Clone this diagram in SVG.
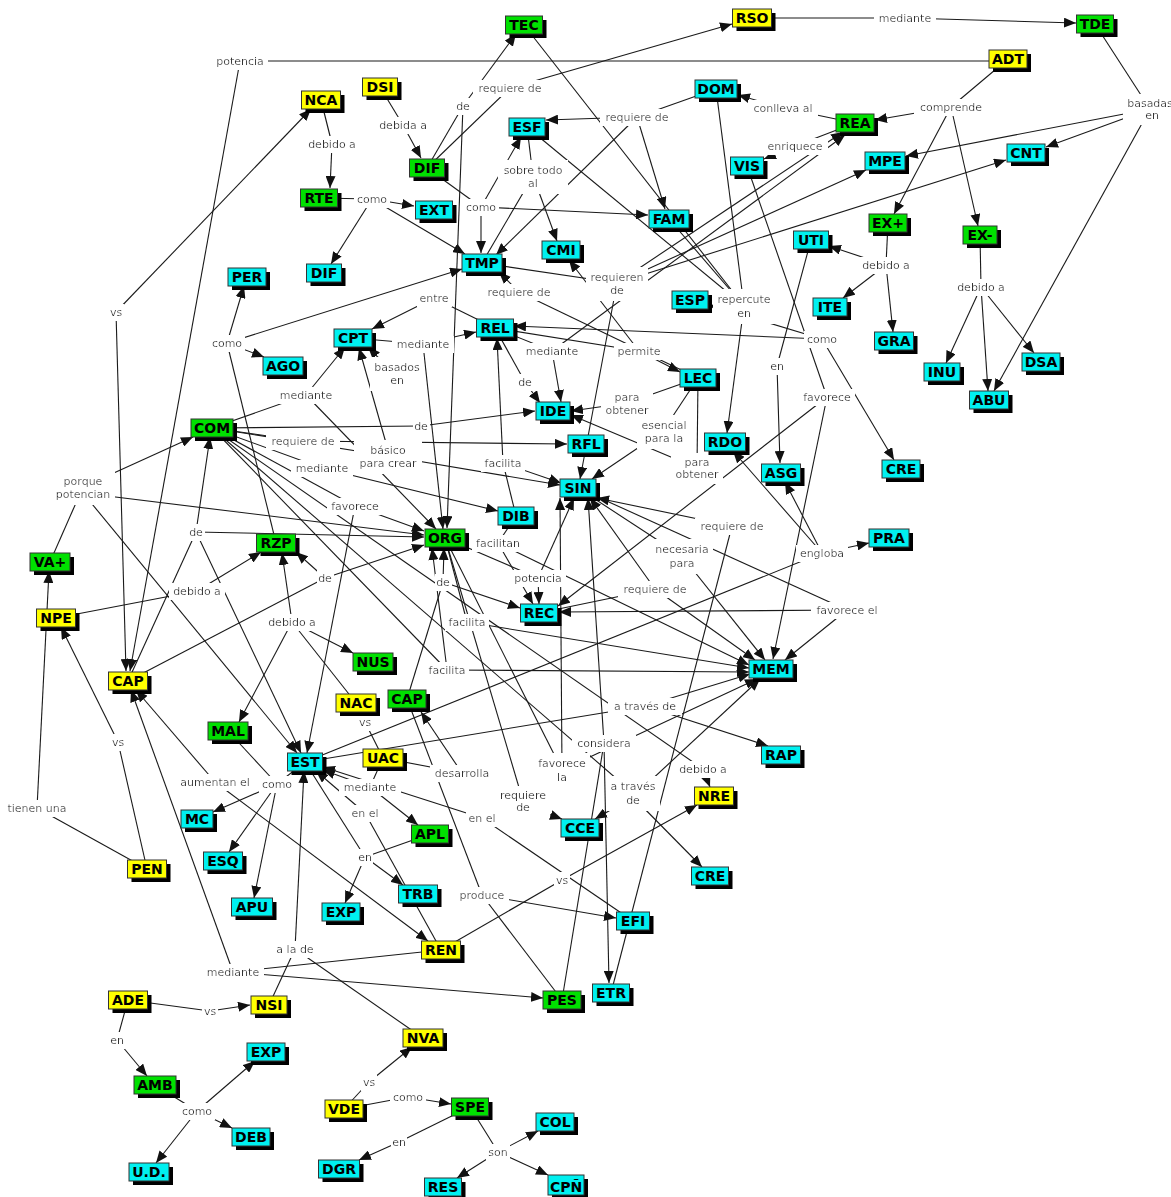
<svg xmlns="http://www.w3.org/2000/svg" width="1171" height="1197" viewBox="0 0 1171 1197">
<style>
  .c{fill:none;stroke:#1a1a1a;stroke-width:1.1}
  .a{marker-end:url(#ah)}
  .l{font-family:"DejaVu Sans",Verdana,sans-serif;font-size:11px;fill:#333;text-anchor:middle}
  .node text{font-family:"DejaVu Sans",Verdana,sans-serif;font-size:14px;font-weight:bold;fill:#000;text-anchor:middle}
  .node .b{stroke:#333;stroke-width:1}
  .node .s{fill:#000}
  .g .b{fill:#00e000}
  .cy .b{fill:#00f0f0}
  .y .b{fill:#ffff00}
</style>
<defs>
  <marker id="ah" viewBox="0 0 12 10" refX="12" refY="5" markerWidth="12" markerHeight="10" markerUnits="userSpaceOnUse" orient="auto">
    <path d="M0,0 L12,5 L0,10 z" fill="#111"/>
  </marker>
  <filter id="bg" x="-0.08" y="-0.12" width="1.16" height="1.24">
    <feFlood flood-color="#fff" result="f"/>
    <feComposite in="SourceGraphic" in2="f" operator="over"/>
  </filter>
</defs>
<rect width="1171" height="1197" fill="#fff"/>

<g id="connectors">
  <!-- plain segments: concept to linking phrase -->
  <path class="c" d="M1008,61 L240,61"/>
  <path class="c" d="M321,100 L332,144"/>
  <path class="c" d="M380,87 L403,125"/>
  <path class="c" d="M319,198 L372,199"/>
  <path class="c" d="M427,168 L463,106"/>
  <path class="c" d="M427,168 L510,88"/>
  <path class="c" d="M427,168 L481,207"/>
  <path class="c" d="M527,127 L533,176"/>
  <path class="c" d="M482,263 L533,176"/>
  <path class="c" d="M716,89 L637,117"/>
  <path class="c" d="M855,123 L783,108"/>
  <path class="c" d="M855,123 L795,146"/>
  <path class="c" d="M1008,59 L951,107"/>
  <path class="c" d="M1095,24 L1150,109"/>
  <path class="c" d="M752,18 L905,18"/>
  <path class="c" d="M888,223 L886,265"/>
  <path class="c" d="M980,235 L981,287"/>
  <path class="c" d="M482,263 L617,283"/>
  <path class="c" d="M524,25 L744,306"/>
  <path class="c" d="M716,89 L744,306"/>
  <path class="c" d="M669,219 L744,306"/>
  <path class="c" d="M527,127 L744,306"/>
  <path class="c" d="M811,240 L777,366"/>
  <path class="c" d="M747,166 L827,397"/>
  <path class="c" d="M495,328 L639,351"/>
  <path class="c" d="M698,378 L627,403"/>
  <path class="c" d="M698,378 L663,431"/>
  <path class="c" d="M698,378 L697,468"/>
  <path class="c" d="M495,328 L434,298"/>
  <path class="c" d="M353,338 L423,344"/>
  <path class="c" d="M698,378 L519,292"/>
  <path class="c" d="M495,328 L552,351"/>
  <path class="c" d="M495,328 L525,382"/>
  <path class="c" d="M276,543 L227,343"/>
  <path class="c" d="M212,428 L306,395"/>
  <path class="c" d="M212,428 L421,426"/>
  <path class="c" d="M212,428 L303,441"/>
  <path class="c" d="M212,428 L388,456"/>
  <path class="c" d="M212,428 L322,468"/>
  <path class="c" d="M516,516 L503,463"/>
  <path class="c" d="M212,428 L355,506"/>
  <path class="c" d="M516,516 L498,543"/>
  <path class="c" d="M445,538 L538,578"/>
  <path class="c" d="M128,681 L325,578"/>
  <path class="c" d="M407,699 L443,582"/>
  <path class="c" d="M445,538 L467,622"/>
  <path class="c" d="M212,428 L447,670"/>
  <path class="c" d="M356,703 L292,622"/>
  <path class="c" d="M356,703 L365,722"/>
  <path class="c" d="M365,722 L383,758"/>
  <path class="c" d="M383,758 L462,773"/>
  <path class="c" d="M383,758 L370,787"/>
  <path class="c" d="M441,950 L365,813"/>
  <path class="c" d="M305,762 L365,857"/>
  <path class="c" d="M430,834 L365,857"/>
  <path class="c" d="M633,921 L482,818"/>
  <path class="c" d="M562,1000 L482,895"/>
  <path class="c" d="M407,699 L482,895"/>
  <path class="c" d="M441,950 L562,880"/>
  <path class="c" d="M445,538 L523,801"/>
  <path class="c" d="M212,428 L633,793"/>
  <path class="c" d="M212,428 L703,769"/>
  <path class="c" d="M305,762 L645,706"/>
  <path class="c" d="M562,1000 L604,743"/>
  <path class="c" d="M445,538 L562,770"/>
  <path class="c" d="M539,613 L655,589"/>
  <path class="c" d="M578,488 L682,556"/>
  <path class="c" d="M611,993 L732,526"/>
  <path class="c" d="M305,762 L822,553"/>
  <path class="c" d="M578,488 L847,610"/>
  <path class="c" d="M50,562 L83,487"/>
  <path class="c" d="M147,869 L37,808"/>
  <path class="c" d="M147,869 L118,742"/>
  <path class="c" d="M56,618 L197,591"/>
  <path class="c" d="M128,681 L196,532"/>
  <path class="c" d="M228,731 L277,784"/>
  <path class="c" d="M305,762 L277,784"/>
  <path class="c" d="M269,1005 L295,949"/>
  <path class="c" d="M423,1038 L295,949"/>
  <path class="c" d="M441,950 L233,972"/>
  <path class="c" d="M128,1000 L210,1011"/>
  <path class="c" d="M128,1000 L117,1040"/>
  <path class="c" d="M155,1085 L197,1111"/>
  <path class="c" d="M344,1109 L369,1082"/>
  <path class="c" d="M344,1109 L408,1097"/>
  <path class="c" d="M470,1107 L399,1142"/>
  <path class="c" d="M470,1107 L498,1152"/>

  <!-- arrows: linking phrase to concept -->
  <path class="c a" d="M240,61 L130,671"/>
  <path class="c a" d="M116,312 L311,109"/>
  <path class="c a" d="M116,312 L126,671"/>
  <path class="c a" d="M332,144 L330,188"/>
  <path class="c a" d="M403,125 L421,158"/>
  <path class="c a" d="M372,199 L414,206"/>
  <path class="c a" d="M372,199 L331,264"/>
  <path class="c a" d="M372,199 L465,254"/>
  <path class="c a" d="M463,106 L516,34"/>
  <path class="c a" d="M463,106 L447,528"/>
  <path class="c a" d="M510,88 L732,24"/>
  <path class="c a" d="M481,207 L481,253"/>
  <path class="c a" d="M481,207 L521,137"/>
  <path class="c a" d="M481,207 L648,215"/>
  <path class="c a" d="M533,176 L557,241"/>
  <path class="c a" d="M637,117 L546,120"/>
  <path class="c a" d="M637,117 L665,209"/>
  <path class="c a" d="M637,117 L496,255"/>
  <path class="c a" d="M783,108 L738,95"/>
  <path class="c a" d="M795,146 L764,159"/>
  <path class="c a" d="M951,107 L875,120"/>
  <path class="c a" d="M951,107 L894,214"/>
  <path class="c a" d="M951,107 L978,226"/>
  <path class="c a" d="M1150,109 L906,156"/>
  <path class="c a" d="M1150,109 L1046,147"/>
  <path class="c a" d="M1150,109 L994,391"/>
  <path class="c a" d="M905,18 L1076,23"/>
  <path class="c a" d="M886,265 L829,246"/>
  <path class="c a" d="M886,265 L843,298"/>
  <path class="c a" d="M886,265 L893,332"/>
  <path class="c a" d="M981,287 L946,363"/>
  <path class="c a" d="M981,287 L988,391"/>
  <path class="c a" d="M981,287 L1034,353"/>
  <path class="c a" d="M617,283 L843,132"/>
  <path class="c a" d="M552,351 L845,135"/>
  <path class="c a" d="M617,283 L866,170"/>
  <path class="c a" d="M617,283 L1006,160"/>
  <path class="c a" d="M617,283 L580,479"/>
  <path class="c a" d="M744,306 L727,433"/>
  <path class="c a" d="M822,339 L514,326"/>
  <path class="c a" d="M822,339 L709,305"/>
  <path class="c a" d="M822,339 L894,460"/>
  <path class="c a" d="M777,366 L780,463"/>
  <path class="c a" d="M827,397 L773,659"/>
  <path class="c a" d="M827,397 L558,606"/>
  <path class="c a" d="M639,351 L680,372"/>
  <path class="c a" d="M639,351 L569,260"/>
  <path class="c a" d="M627,403 L571,411"/>
  <path class="c a" d="M663,431 L592,479"/>
  <path class="c a" d="M697,468 L571,415"/>
  <path class="c a" d="M434,298 L372,329"/>
  <path class="c a" d="M423,344 L476,332"/>
  <path class="c a" d="M423,344 L443,529"/>
  <path class="c a" d="M519,292 L499,272"/>
  <path class="c a" d="M552,351 L561,402"/>
  <path class="c a" d="M397,377 L368,347"/>
  <path class="c a" d="M525,382 L540,403"/>
  <path class="c a" d="M227,343 L244,286"/>
  <path class="c a" d="M227,343 L264,357"/>
  <path class="c a" d="M227,343 L462,269"/>
  <path class="c a" d="M306,395 L345,347"/>
  <path class="c a" d="M306,395 L436,529"/>
  <path class="c a" d="M421,426 L535,411"/>
  <path class="c a" d="M303,441 L567,444"/>
  <path class="c a" d="M388,456 L560,485"/>
  <path class="c a" d="M388,450 L359,348"/>
  <path class="c a" d="M322,468 L498,511"/>
  <path class="c a" d="M503,463 L561,483"/>
  <path class="c a" d="M503,463 L497,338"/>
  <path class="c a" d="M355,506 L424,531"/>
  <path class="c a" d="M355,506 L307,753"/>
  <path class="c a" d="M498,543 L533,604"/>
  <path class="c a" d="M498,543 L749,665"/>
  <path class="c a" d="M538,578 L574,498"/>
  <path class="c a" d="M538,578 L539,604"/>
  <path class="c a" d="M325,578 L424,545"/>
  <path class="c a" d="M325,578 L296,552"/>
  <path class="c a" d="M443,582 L444,548"/>
  <path class="c a" d="M443,582 L520,608"/>
  <path class="c a" d="M467,622 L749,668"/>
  <path class="c a" d="M447,670 L432,548"/>
  <path class="c a" d="M447,670 L749,672"/>
  <path class="c a" d="M292,622 L282,553"/>
  <path class="c a" d="M292,622 L239,722"/>
  <path class="c a" d="M292,622 L353,653"/>
  <path class="c a" d="M462,773 L421,712"/>
  <path class="c a" d="M370,787 L323,770"/>
  <path class="c a" d="M370,787 L418,825"/>
  <path class="c a" d="M365,813 L316,771"/>
  <path class="c a" d="M365,857 L403,885"/>
  <path class="c a" d="M365,857 L345,903"/>
  <path class="c a" d="M482,818 L323,767"/>
  <path class="c a" d="M482,895 L616,918"/>
  <path class="c a" d="M562,880 L697,805"/>
  <path class="c a" d="M523,805 L562,819"/>
  <path class="c a" d="M633,797 L595,819"/>
  <path class="c a" d="M633,797 L702,867"/>
  <path class="c a" d="M633,797 L760,679"/>
  <path class="c a" d="M703,769 L710,787"/>
  <path class="c a" d="M645,706 L750,674"/>
  <path class="c a" d="M645,706 L768,746"/>
  <path class="c a" d="M604,743 L588,498"/>
  <path class="c a" d="M604,743 L609,983"/>
  <path class="c a" d="M562,770 L560,498"/>
  <path class="c a" d="M562,770 L757,679"/>
  <path class="c a" d="M655,589 L590,498"/>
  <path class="c a" d="M655,589 L755,660"/>
  <path class="c a" d="M682,556 L765,660"/>
  <path class="c a" d="M732,526 L597,498"/>
  <path class="c a" d="M822,553 L733,451"/>
  <path class="c a" d="M822,553 L785,482"/>
  <path class="c a" d="M822,553 L869,543"/>
  <path class="c a" d="M847,610 L559,612"/>
  <path class="c a" d="M847,610 L785,660"/>
  <path class="c a" d="M83,487 L193,437"/>
  <path class="c a" d="M83,493 L424,535"/>
  <path class="c a" d="M83,493 L297,753"/>
  <path class="c a" d="M37,808 L49,571"/>
  <path class="c a" d="M118,742 L61,627"/>
  <path class="c a" d="M197,591 L261,552"/>
  <path class="c a" d="M196,532 L424,537"/>
  <path class="c a" d="M196,532 L210,437"/>
  <path class="c a" d="M196,532 L301,753"/>
  <path class="c a" d="M215,782 L136,690"/>
  <path class="c a" d="M215,782 L428,941"/>
  <path class="c a" d="M277,784 L213,812"/>
  <path class="c a" d="M277,784 L229,852"/>
  <path class="c a" d="M277,784 L254,898"/>
  <path class="c a" d="M295,949 L304,771"/>
  <path class="c a" d="M233,972 L131,690"/>
  <path class="c a" d="M233,972 L543,998"/>
  <path class="c a" d="M210,1011 L250,1005"/>
  <path class="c a" d="M117,1040 L147,1076"/>
  <path class="c a" d="M197,1111 L255,1061"/>
  <path class="c a" d="M197,1111 L232,1128"/>
  <path class="c a" d="M197,1111 L156,1163"/>
  <path class="c a" d="M369,1082 L412,1047"/>
  <path class="c a" d="M408,1097 L451,1104"/>
  <path class="c a" d="M399,1142 L359,1160"/>
  <path class="c a" d="M498,1152 L538,1131"/>
  <path class="c a" d="M498,1152 L457,1178"/>
  <path class="c a" d="M498,1152 L548,1175"/>
</g>

<g id="labels">
  <text class="l" filter="url(#bg)" x="240" y="65">potencia</text>
  <text class="l" filter="url(#bg)" x="116" y="316">vs</text>
  <text class="l" filter="url(#bg)" x="332" y="148">debido a</text>
  <text class="l" filter="url(#bg)" x="403" y="129">debida a</text>
  <text class="l" filter="url(#bg)" x="372" y="203">como</text>
  <text class="l" filter="url(#bg)" x="463" y="110">de</text>
  <text class="l" filter="url(#bg)" x="510" y="92">requiere de</text>
  <text class="l" filter="url(#bg)" x="481" y="211">como</text>
  <text class="l" filter="url(#bg)" x="533" y="174">sobre todo<tspan x="533" dy="13">al</tspan></text>
  <text class="l" filter="url(#bg)" x="637" y="121">requiere de</text>
  <text class="l" filter="url(#bg)" x="783" y="112">conlleva al</text>
  <text class="l" filter="url(#bg)" x="795" y="150">enriquece</text>
  <text class="l" filter="url(#bg)" x="951" y="111">comprende</text>
  <text class="l" filter="url(#bg)" x="1150" y="107">basadas<tspan x="1152" dy="12">en</tspan></text>
  <text class="l" filter="url(#bg)" x="905" y="22">mediante</text>
  <text class="l" filter="url(#bg)" x="886" y="269">debido a</text>
  <text class="l" filter="url(#bg)" x="981" y="291">debido a</text>
  <text class="l" filter="url(#bg)" x="617" y="281">requieren<tspan x="617" dy="13">de</tspan></text>
  <text class="l" filter="url(#bg)" x="744" y="303">repercute<tspan x="744" dy="14">en</tspan></text>
  <text class="l" filter="url(#bg)" x="822" y="343">como</text>
  <text class="l" filter="url(#bg)" x="777" y="370">en</text>
  <text class="l" filter="url(#bg)" x="827" y="401">favorece</text>
  <text class="l" filter="url(#bg)" x="639" y="355">permite</text>
  <text class="l" filter="url(#bg)" x="627" y="401">para<tspan x="627" dy="13">obtener</tspan></text>
  <text class="l" filter="url(#bg)" x="664" y="429">esencial<tspan x="664" dy="13">para la</tspan></text>
  <text class="l" filter="url(#bg)" x="697" y="466">para<tspan x="697" dy="12">obtener</tspan></text>
  <text class="l" filter="url(#bg)" x="434" y="302">entre</text>
  <text class="l" filter="url(#bg)" x="519" y="296">requiere de</text>
  <text class="l" filter="url(#bg)" x="423" y="348">mediante</text>
  <text class="l" filter="url(#bg)" x="552" y="355">mediante</text>
  <text class="l" filter="url(#bg)" x="397" y="371">basados<tspan x="397" dy="13">en</tspan></text>
  <text class="l" filter="url(#bg)" x="525" y="386">de</text>
  <text class="l" filter="url(#bg)" x="227" y="347">como</text>
  <text class="l" filter="url(#bg)" x="306" y="399">mediante</text>
  <text class="l" filter="url(#bg)" x="421" y="430">de</text>
  <text class="l" filter="url(#bg)" x="303" y="445">requiere de</text>
  <text class="l" filter="url(#bg)" x="388" y="454">básico<tspan x="388" dy="13">para crear</tspan></text>
  <text class="l" filter="url(#bg)" x="503" y="467">facilita</text>
  <text class="l" filter="url(#bg)" x="322" y="472">mediante</text>
  <text class="l" filter="url(#bg)" x="355" y="510">favorece</text>
  <text class="l" filter="url(#bg)" x="498" y="547">facilitan</text>
  <text class="l" filter="url(#bg)" x="538" y="582">potencia</text>
  <text class="l" filter="url(#bg)" x="732" y="530">requiere de</text>
  <text class="l" filter="url(#bg)" x="682" y="553">necesaria<tspan x="682" dy="14">para</tspan></text>
  <text class="l" filter="url(#bg)" x="822" y="557">engloba</text>
  <text class="l" filter="url(#bg)" x="655" y="593">requiere de</text>
  <text class="l" filter="url(#bg)" x="847" y="614">favorece el</text>
  <text class="l" filter="url(#bg)" x="196" y="536">de</text>
  <text class="l" filter="url(#bg)" x="197" y="595">debido a</text>
  <text class="l" filter="url(#bg)" x="325" y="582">de</text>
  <text class="l" filter="url(#bg)" x="443" y="586">de</text>
  <text class="l" filter="url(#bg)" x="292" y="626">debido a</text>
  <text class="l" filter="url(#bg)" x="467" y="626">facilita</text>
  <text class="l" filter="url(#bg)" x="447" y="674">facilita</text>
  <text class="l" filter="url(#bg)" x="83" y="485">porque<tspan x="83" dy="13">potencian</tspan></text>
  <text class="l" filter="url(#bg)" x="365" y="726">vs</text>
  <text class="l" filter="url(#bg)" x="645" y="710">a través de</text>
  <text class="l" filter="url(#bg)" x="604" y="747">considera</text>
  <text class="l" filter="url(#bg)" x="562" y="767">favorece<tspan x="562" dy="14">la</tspan></text>
  <text class="l" filter="url(#bg)" x="462" y="777">desarrolla</text>
  <text class="l" filter="url(#bg)" x="370" y="791">mediante</text>
  <text class="l" filter="url(#bg)" x="277" y="788">como</text>
  <text class="l" filter="url(#bg)" x="215" y="786">aumentan el</text>
  <text class="l" filter="url(#bg)" x="118" y="746">vs</text>
  <text class="l" filter="url(#bg)" x="703" y="773">debido a</text>
  <text class="l" filter="url(#bg)" x="633" y="790">a través<tspan x="633" dy="14">de</tspan></text>
  <text class="l" filter="url(#bg)" x="523" y="799">requiere<tspan x="523" dy="12">de</tspan></text>
  <text class="l" filter="url(#bg)" x="365" y="817">en el</text>
  <text class="l" filter="url(#bg)" x="482" y="822">en el</text>
  <text class="l" filter="url(#bg)" x="365" y="861">en</text>
  <text class="l" filter="url(#bg)" x="482" y="899">produce</text>
  <text class="l" filter="url(#bg)" x="562" y="884">vs</text>
  <text class="l" filter="url(#bg)" x="37" y="812">tienen una</text>
  <text class="l" filter="url(#bg)" x="295" y="953">a la de</text>
  <text class="l" filter="url(#bg)" x="233" y="976">mediante</text>
  <text class="l" filter="url(#bg)" x="210" y="1015">vs</text>
  <text class="l" filter="url(#bg)" x="117" y="1044">en</text>
  <text class="l" filter="url(#bg)" x="197" y="1115">como</text>
  <text class="l" filter="url(#bg)" x="369" y="1086">vs</text>
  <text class="l" filter="url(#bg)" x="408" y="1101">como</text>
  <text class="l" filter="url(#bg)" x="399" y="1146">en</text>
  <text class="l" filter="url(#bg)" x="498" y="1156">son</text>
</g>

<g id="nodes">
  <g id="n-tec" class="node g" transform="translate(524 25)"><rect class="s" x="-14.5" y="-5" width="37" height="18"/><rect class="b" x="-18.5" y="-9" width="37" height="18"/><text y="5">TEC</text></g>
  <g id="n-rso" class="node y" transform="translate(752 18)"><rect class="s" x="-15.5" y="-5" width="39" height="18"/><rect class="b" x="-19.5" y="-9" width="39" height="18"/><text y="5">RSO</text></g>
  <g id="n-tde" class="node g" transform="translate(1095 24)"><rect class="s" x="-14.5" y="-5" width="37" height="18"/><rect class="b" x="-18.5" y="-9" width="37" height="18"/><text y="5">TDE</text></g>
  <g id="n-adt" class="node y" transform="translate(1008 59)"><rect class="s" x="-15" y="-5" width="38" height="18"/><rect class="b" x="-19" y="-9" width="38" height="18"/><text y="5">ADT</text></g>
  <g id="n-nca" class="node y" transform="translate(321 100)"><rect class="s" x="-15.5" y="-5" width="39" height="18"/><rect class="b" x="-19.5" y="-9" width="39" height="18"/><text y="5">NCA</text></g>
  <g id="n-dsi" class="node y" transform="translate(380 87)"><rect class="s" x="-13.5" y="-5" width="35" height="18"/><rect class="b" x="-17.5" y="-9" width="35" height="18"/><text y="5">DSI</text></g>
  <g id="n-dif1" class="node g" transform="translate(427 168)"><rect class="s" x="-13.5" y="-5" width="35" height="18"/><rect class="b" x="-17.5" y="-9" width="35" height="18"/><text y="5">DIF</text></g>
  <g id="n-rte" class="node g" transform="translate(319 198)"><rect class="s" x="-14.5" y="-5" width="37" height="18"/><rect class="b" x="-18.5" y="-9" width="37" height="18"/><text y="5">RTE</text></g>
  <g id="n-ext" class="node cy" transform="translate(434 210)"><rect class="s" x="-14.5" y="-5" width="37" height="18"/><rect class="b" x="-18.5" y="-9" width="37" height="18"/><text y="5">EXT</text></g>
  <g id="n-dif2" class="node cy" transform="translate(324 273)"><rect class="s" x="-13.5" y="-5" width="35" height="18"/><rect class="b" x="-17.5" y="-9" width="35" height="18"/><text y="5">DIF</text></g>
  <g id="n-esf" class="node cy" transform="translate(527 127)"><rect class="s" x="-14" y="-5" width="36" height="18"/><rect class="b" x="-18" y="-9" width="36" height="18"/><text y="5">ESF</text></g>
  <g id="n-dom" class="node cy" transform="translate(716 89)"><rect class="s" x="-17" y="-5" width="42" height="18"/><rect class="b" x="-21" y="-9" width="42" height="18"/><text y="5">DOM</text></g>
  <g id="n-rea" class="node g" transform="translate(855 123)"><rect class="s" x="-15" y="-5" width="38" height="18"/><rect class="b" x="-19" y="-9" width="38" height="18"/><text y="5">REA</text></g>
  <g id="n-vis" class="node cy" transform="translate(747 166)"><rect class="s" x="-12.5" y="-5" width="33" height="18"/><rect class="b" x="-16.5" y="-9" width="33" height="18"/><text y="5">VIS</text></g>
  <g id="n-mpe" class="node cy" transform="translate(885 161)"><rect class="s" x="-16" y="-5" width="40" height="18"/><rect class="b" x="-20" y="-9" width="40" height="18"/><text y="5">MPE</text></g>
  <g id="n-cnt" class="node cy" transform="translate(1026 153)"><rect class="s" x="-15" y="-5" width="38" height="18"/><rect class="b" x="-19" y="-9" width="38" height="18"/><text y="5">CNT</text></g>
  <g id="n-fam" class="node cy" transform="translate(669 219)"><rect class="s" x="-16" y="-5" width="40" height="18"/><rect class="b" x="-20" y="-9" width="40" height="18"/><text y="5">FAM</text></g>
  <g id="n-cmi" class="node cy" transform="translate(561 250)"><rect class="s" x="-15" y="-5" width="38" height="18"/><rect class="b" x="-19" y="-9" width="38" height="18"/><text y="5">CMI</text></g>
  <g id="n-tmp" class="node cy" transform="translate(482 263)"><rect class="s" x="-16" y="-5" width="40" height="18"/><rect class="b" x="-20" y="-9" width="40" height="18"/><text y="5">TMP</text></g>
  <g id="n-uti" class="node cy" transform="translate(811 240)"><rect class="s" x="-13.5" y="-5" width="35" height="18"/><rect class="b" x="-17.5" y="-9" width="35" height="18"/><text y="5">UTI</text></g>
  <g id="n-exp-plus" class="node g" transform="translate(888 223)"><rect class="s" x="-15" y="-5" width="38" height="18"/><rect class="b" x="-19" y="-9" width="38" height="18"/><text y="5">EX+</text></g>
  <g id="n-exp-minus" class="node g" transform="translate(980 235)"><rect class="s" x="-13" y="-5" width="34" height="18"/><rect class="b" x="-17" y="-9" width="34" height="18"/><text y="5">EX-</text></g>
  <g id="n-per" class="node cy" transform="translate(247 277)"><rect class="s" x="-15" y="-5" width="38" height="18"/><rect class="b" x="-19" y="-9" width="38" height="18"/><text y="5">PER</text></g>
  <g id="n-esp" class="node cy" transform="translate(690 300)"><rect class="s" x="-14" y="-5" width="36" height="18"/><rect class="b" x="-18" y="-9" width="36" height="18"/><text y="5">ESP</text></g>
  <g id="n-ite" class="node cy" transform="translate(830 307)"><rect class="s" x="-13" y="-5" width="34" height="18"/><rect class="b" x="-17" y="-9" width="34" height="18"/><text y="5">ITE</text></g>
  <g id="n-gra" class="node cy" transform="translate(894 341)"><rect class="s" x="-15.5" y="-5" width="39" height="18"/><rect class="b" x="-19.5" y="-9" width="39" height="18"/><text y="5">GRA</text></g>
  <g id="n-rel" class="node cy" transform="translate(495 328)"><rect class="s" x="-14.5" y="-5" width="37" height="18"/><rect class="b" x="-18.5" y="-9" width="37" height="18"/><text y="5">REL</text></g>
  <g id="n-cpt" class="node cy" transform="translate(353 338)"><rect class="s" x="-15" y="-5" width="38" height="18"/><rect class="b" x="-19" y="-9" width="38" height="18"/><text y="5">CPT</text></g>
  <g id="n-ago" class="node cy" transform="translate(283 366)"><rect class="s" x="-16" y="-5" width="40" height="18"/><rect class="b" x="-20" y="-9" width="40" height="18"/><text y="5">AGO</text></g>
  <g id="n-lec" class="node cy" transform="translate(698 378)"><rect class="s" x="-14" y="-5" width="36" height="18"/><rect class="b" x="-18" y="-9" width="36" height="18"/><text y="5">LEC</text></g>
  <g id="n-inu" class="node cy" transform="translate(942 372)"><rect class="s" x="-14" y="-5" width="36" height="18"/><rect class="b" x="-18" y="-9" width="36" height="18"/><text y="5">INU</text></g>
  <g id="n-dsa" class="node cy" transform="translate(1041 362)"><rect class="s" x="-15" y="-5" width="38" height="18"/><rect class="b" x="-19" y="-9" width="38" height="18"/><text y="5">DSA</text></g>
  <g id="n-abu" class="node cy" transform="translate(989 400)"><rect class="s" x="-15.5" y="-5" width="39" height="18"/><rect class="b" x="-19.5" y="-9" width="39" height="18"/><text y="5">ABU</text></g>
  <g id="n-ide" class="node cy" transform="translate(553 411)"><rect class="s" x="-13" y="-5" width="34" height="18"/><rect class="b" x="-17" y="-9" width="34" height="18"/><text y="5">IDE</text></g>
  <g id="n-rdo" class="node cy" transform="translate(725 442)"><rect class="s" x="-16.5" y="-5" width="41" height="18"/><rect class="b" x="-20.5" y="-9" width="41" height="18"/><text y="5">RDO</text></g>
  <g id="n-com" class="node g" transform="translate(212 428)"><rect class="s" x="-17" y="-5" width="42" height="18"/><rect class="b" x="-21" y="-9" width="42" height="18"/><text y="5">COM</text></g>
  <g id="n-rfl" class="node cy" transform="translate(586 444)"><rect class="s" x="-14" y="-5" width="36" height="18"/><rect class="b" x="-18" y="-9" width="36" height="18"/><text y="5">RFL</text></g>
  <g id="n-asg" class="node cy" transform="translate(781 473)"><rect class="s" x="-15.5" y="-5" width="39" height="18"/><rect class="b" x="-19.5" y="-9" width="39" height="18"/><text y="5">ASG</text></g>
  <g id="n-cre1" class="node cy" transform="translate(901 469)"><rect class="s" x="-15" y="-5" width="38" height="18"/><rect class="b" x="-19" y="-9" width="38" height="18"/><text y="5">CRE</text></g>
  <g id="n-sin" class="node cy" transform="translate(578 488)"><rect class="s" x="-14" y="-5" width="36" height="18"/><rect class="b" x="-18" y="-9" width="36" height="18"/><text y="5">SIN</text></g>
  <g id="n-dib" class="node cy" transform="translate(516 516)"><rect class="s" x="-14" y="-5" width="36" height="18"/><rect class="b" x="-18" y="-9" width="36" height="18"/><text y="5">DIB</text></g>
  <g id="n-org" class="node g" transform="translate(445 538)"><rect class="s" x="-16" y="-5" width="40" height="18"/><rect class="b" x="-20" y="-9" width="40" height="18"/><text y="5">ORG</text></g>
  <g id="n-rzp" class="node g" transform="translate(276 543)"><rect class="s" x="-15.5" y="-5" width="39" height="18"/><rect class="b" x="-19.5" y="-9" width="39" height="18"/><text y="5">RZP</text></g>
  <g id="n-pra" class="node cy" transform="translate(889 538)"><rect class="s" x="-16" y="-5" width="40" height="18"/><rect class="b" x="-20" y="-9" width="40" height="18"/><text y="5">PRA</text></g>
  <g id="n-va-plus" class="node g" transform="translate(50 562)"><rect class="s" x="-16" y="-5" width="40" height="18"/><rect class="b" x="-20" y="-9" width="40" height="18"/><text y="5">VA+</text></g>
  <g id="n-npe" class="node y" transform="translate(56 618)"><rect class="s" x="-15.5" y="-5" width="39" height="18"/><rect class="b" x="-19.5" y="-9" width="39" height="18"/><text y="5">NPE</text></g>
  <g id="n-rec" class="node cy" transform="translate(539 613)"><rect class="s" x="-14.5" y="-5" width="37" height="18"/><rect class="b" x="-18.5" y="-9" width="37" height="18"/><text y="5">REC</text></g>
  <g id="n-nus" class="node g" transform="translate(373 662)"><rect class="s" x="-16" y="-5" width="40" height="18"/><rect class="b" x="-20" y="-9" width="40" height="18"/><text y="5">NUS</text></g>
  <g id="n-cap1" class="node y" transform="translate(128 681)"><rect class="s" x="-15.5" y="-5" width="39" height="18"/><rect class="b" x="-19.5" y="-9" width="39" height="18"/><text y="5">CAP</text></g>
  <g id="n-mem" class="node cy" transform="translate(771 669)"><rect class="s" x="-18" y="-5" width="44" height="18"/><rect class="b" x="-22" y="-9" width="44" height="18"/><text y="5">MEM</text></g>
  <g id="n-nac" class="node y" transform="translate(356 703)"><rect class="s" x="-16" y="-5" width="40" height="18"/><rect class="b" x="-20" y="-9" width="40" height="18"/><text y="5">NAC</text></g>
  <g id="n-cap2" class="node g" transform="translate(407 699)"><rect class="s" x="-15" y="-5" width="38" height="18"/><rect class="b" x="-19" y="-9" width="38" height="18"/><text y="5">CAP</text></g>
  <g id="n-mal" class="node g" transform="translate(228 731)"><rect class="s" x="-16" y="-5" width="40" height="18"/><rect class="b" x="-20" y="-9" width="40" height="18"/><text y="5">MAL</text></g>
  <g id="n-est" class="node cy" transform="translate(305 762)"><rect class="s" x="-13.5" y="-5" width="35" height="18"/><rect class="b" x="-17.5" y="-9" width="35" height="18"/><text y="5">EST</text></g>
  <g id="n-uac" class="node y" transform="translate(383 758)"><rect class="s" x="-16" y="-5" width="40" height="18"/><rect class="b" x="-20" y="-9" width="40" height="18"/><text y="5">UAC</text></g>
  <g id="n-rap" class="node cy" transform="translate(781 755)"><rect class="s" x="-15.5" y="-5" width="39" height="18"/><rect class="b" x="-19.5" y="-9" width="39" height="18"/><text y="5">RAP</text></g>
  <g id="n-nre" class="node y" transform="translate(714 796)"><rect class="s" x="-15.5" y="-5" width="39" height="18"/><rect class="b" x="-19.5" y="-9" width="39" height="18"/><text y="5">NRE</text></g>
  <g id="n-mc" class="node cy" transform="translate(197 819)"><rect class="s" x="-12" y="-5" width="32" height="18"/><rect class="b" x="-16" y="-9" width="32" height="18"/><text y="5">MC</text></g>
  <g id="n-cce" class="node cy" transform="translate(580 828)"><rect class="s" x="-15" y="-5" width="38" height="18"/><rect class="b" x="-19" y="-9" width="38" height="18"/><text y="5">CCE</text></g>
  <g id="n-apl" class="node g" transform="translate(430 834)"><rect class="s" x="-14.5" y="-5" width="37" height="18"/><rect class="b" x="-18.5" y="-9" width="37" height="18"/><text y="5">APL</text></g>
  <g id="n-esq" class="node cy" transform="translate(223 861)"><rect class="s" x="-15.5" y="-5" width="39" height="18"/><rect class="b" x="-19.5" y="-9" width="39" height="18"/><text y="5">ESQ</text></g>
  <g id="n-pen" class="node y" transform="translate(147 869)"><rect class="s" x="-15.5" y="-5" width="39" height="18"/><rect class="b" x="-19.5" y="-9" width="39" height="18"/><text y="5">PEN</text></g>
  <g id="n-cre2" class="node cy" transform="translate(710 876)"><rect class="s" x="-14.5" y="-5" width="37" height="18"/><rect class="b" x="-18.5" y="-9" width="37" height="18"/><text y="5">CRE</text></g>
  <g id="n-trb" class="node cy" transform="translate(418 894)"><rect class="s" x="-15.5" y="-5" width="39" height="18"/><rect class="b" x="-19.5" y="-9" width="39" height="18"/><text y="5">TRB</text></g>
  <g id="n-apu" class="node cy" transform="translate(252 907)"><rect class="s" x="-16.5" y="-5" width="41" height="18"/><rect class="b" x="-20.5" y="-9" width="41" height="18"/><text y="5">APU</text></g>
  <g id="n-exp1" class="node cy" transform="translate(341 912)"><rect class="s" x="-15" y="-5" width="38" height="18"/><rect class="b" x="-19" y="-9" width="38" height="18"/><text y="5">EXP</text></g>
  <g id="n-efi" class="node cy" transform="translate(633 921)"><rect class="s" x="-12.5" y="-5" width="33" height="18"/><rect class="b" x="-16.5" y="-9" width="33" height="18"/><text y="5">EFI</text></g>
  <g id="n-ren" class="node y" transform="translate(441 950)"><rect class="s" x="-15.5" y="-5" width="39" height="18"/><rect class="b" x="-19.5" y="-9" width="39" height="18"/><text y="5">REN</text></g>
  <g id="n-etr" class="node cy" transform="translate(611 993)"><rect class="s" x="-14.5" y="-5" width="37" height="18"/><rect class="b" x="-18.5" y="-9" width="37" height="18"/><text y="5">ETR</text></g>
  <g id="n-pes" class="node g" transform="translate(562 1000)"><rect class="s" x="-15" y="-5" width="38" height="18"/><rect class="b" x="-19" y="-9" width="38" height="18"/><text y="5">PES</text></g>
  <g id="n-ade" class="node y" transform="translate(128 1000)"><rect class="s" x="-15.5" y="-5" width="39" height="18"/><rect class="b" x="-19.5" y="-9" width="39" height="18"/><text y="5">ADE</text></g>
  <g id="n-nsi" class="node y" transform="translate(269 1005)"><rect class="s" x="-14" y="-5" width="36" height="18"/><rect class="b" x="-18" y="-9" width="36" height="18"/><text y="5">NSI</text></g>
  <g id="n-nva" class="node y" transform="translate(423 1038)"><rect class="s" x="-16" y="-5" width="40" height="18"/><rect class="b" x="-20" y="-9" width="40" height="18"/><text y="5">NVA</text></g>
  <g id="n-exp2" class="node cy" transform="translate(266 1052)"><rect class="s" x="-15" y="-5" width="38" height="18"/><rect class="b" x="-19" y="-9" width="38" height="18"/><text y="5">EXP</text></g>
  <g id="n-amb" class="node g" transform="translate(155 1085)"><rect class="s" x="-17" y="-5" width="42" height="18"/><rect class="b" x="-21" y="-9" width="42" height="18"/><text y="5">AMB</text></g>
  <g id="n-deb" class="node cy" transform="translate(251 1137)"><rect class="s" x="-15" y="-5" width="38" height="18"/><rect class="b" x="-19" y="-9" width="38" height="18"/><text y="5">DEB</text></g>
  <g id="n-vde" class="node y" transform="translate(344 1109)"><rect class="s" x="-15" y="-5" width="38" height="18"/><rect class="b" x="-19" y="-9" width="38" height="18"/><text y="5">VDE</text></g>
  <g id="n-spe" class="node g" transform="translate(470 1107)"><rect class="s" x="-14.5" y="-5" width="37" height="18"/><rect class="b" x="-18.5" y="-9" width="37" height="18"/><text y="5">SPE</text></g>
  <g id="n-col" class="node cy" transform="translate(555 1122)"><rect class="s" x="-15" y="-5" width="38" height="18"/><rect class="b" x="-19" y="-9" width="38" height="18"/><text y="5">COL</text></g>
  <g id="n-dgr" class="node cy" transform="translate(339 1169)"><rect class="s" x="-16.5" y="-5" width="41" height="18"/><rect class="b" x="-20.5" y="-9" width="41" height="18"/><text y="5">DGR</text></g>
  <g id="n-ud" class="node cy" transform="translate(149 1172)"><rect class="s" x="-16" y="-5" width="40" height="18"/><rect class="b" x="-20" y="-9" width="40" height="18"/><text y="5">U.D.</text></g>
  <g id="n-res" class="node cy" transform="translate(443 1187)"><rect class="s" x="-14.5" y="-5" width="37" height="18"/><rect class="b" x="-18.5" y="-9" width="37" height="18"/><text y="5">RES</text></g>
  <g id="n-cpn" class="node cy" transform="translate(566 1186)"><rect class="s" x="-14" y="-7" width="36" height="20"/><rect class="b" x="-18" y="-11" width="36" height="20"/><text y="6">CPÑ</text></g>
</g>
</svg>
